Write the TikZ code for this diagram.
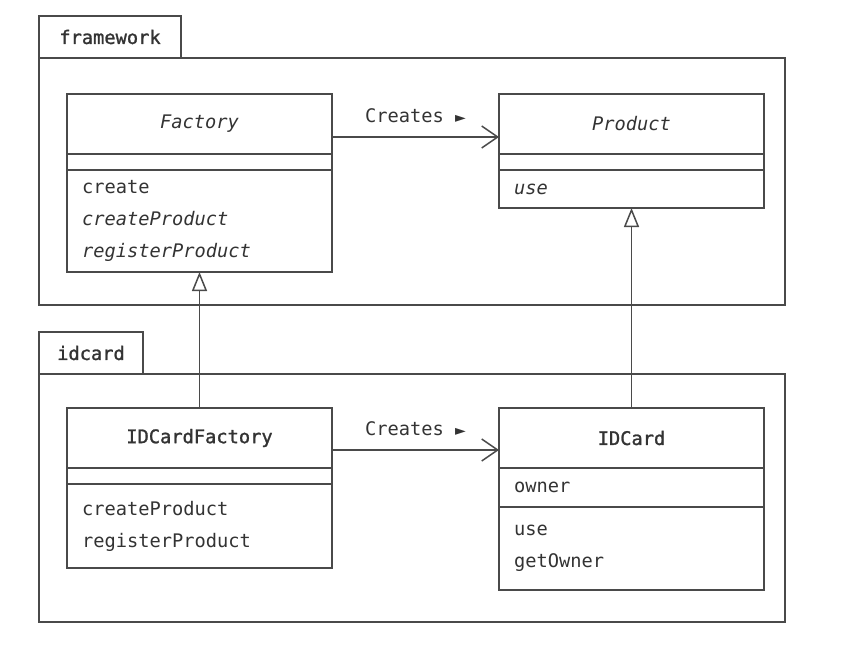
\documentclass[tikz,border=0pt]{standalone}
\usepackage{fontspec}
\setmonofont{DejaVu Sans Mono}
\newfontfamily\symfont{DejaVu Sans}
\newfontfamily\medfont[FakeBold=1.3]{DejaVu Sans Mono}
\usetikzlibrary{positioning,arrows.meta}
\definecolor{ink}{HTML}{333333}
\definecolor{edge}{HTML}{4A4A4A}
\newcommand{\cw}{265pt}
\newcommand{\dirmark}{{\symfont\fontsize{14}{14}\selectfont ►}}

\begin{document}
\begin{tikzpicture}[x=1pt, y=-1pt,
  font=\ttfamily\fontsize{18.7}{32}\selectfont\color{ink},
  box/.style={draw=edge, line width=1.5pt, outer sep=0pt, minimum width=\cw},
  cname/.style={box, inner sep=0pt, minimum height=60pt},
  cpart/.style={box, text width=\cw-30pt, align=left, inner xsep=15pt, inner ysep=0pt},
  tab/.style={draw=edge, line width=1.7pt, outer sep=0pt, inner sep=0pt,
    minimum height=42pt, font=\medfont\fontsize{18.7}{32}\selectfont\color{ink}},
  pkg/.style={draw=edge, line width=1.7pt, outer sep=0pt, minimum width=746pt},
  creates/.style={-{Straight Barb[length=16pt, width=22pt]}, line width=1.5pt, draw=edge},
  inherit/.style={-{Triangle[open, length=19pt, width=15pt]}, line width=1.5pt, draw=edge},
]
\useasboundingbox (0,0) rectangle (842,650);

% ---- package framework ------------------------------------------------------
\node[pkg, anchor=north west, minimum height=247pt] (fwbody) at (39,58) {};
\node[tab, anchor=south west, minimum width=142pt] (fwtab) at (39,58) {framework};

\node[cname, anchor=north west] (factory) at (67,94) {\itshape Factory};
\node[cpart, below=0pt of factory, minimum height=16pt] (factory-a) {};
\node[cpart, below=0pt of factory-a, minimum height=102pt] (factory-m)
  {create\\ \itshape createProduct\\ \itshape registerProduct};

\node[cname, anchor=north west] (product) at (499,94) {\itshape Product};
\node[cpart, below=0pt of product, minimum height=16pt] (product-a) {};
\node[cpart, below=0pt of product-a, minimum height=38pt] (product-m) {\itshape use};

% ---- package idcard ---------------------------------------------------------
\node[pkg, anchor=north west, minimum height=248pt] (idbody) at (39,374) {};
\node[tab, anchor=south west, minimum width=104pt] (idtab) at (39,374) {idcard};

\node[cname, anchor=north west] (idfactory) at (67,408) {\medfont IDCardFactory};
\node[cpart, below=0pt of idfactory, minimum height=16pt] (idfactory-a) {};
\node[cpart, below=0pt of idfactory-a, minimum height=84pt] (idfactory-m)
  {createProduct\\ registerProduct};

\node[cname, anchor=north west] (idcard) at (499,408) {\medfont IDCard};
\node[cpart, below=0pt of idcard, minimum height=39pt] (idcard-a) {owner};
\node[cpart, below=0pt of idcard-a, minimum height=83pt] (idcard-m)
  {use\\ getOwner};

% ---- relations --------------------------------------------------------------
\draw[creates] ([yshift=-13pt]factory.east) -- ([yshift=-13pt]product.west)
  node[midway, above=10pt] {Creates \dirmark};
\draw[creates] ([yshift=-12pt]idfactory.east) -- ([yshift=-12pt]idcard.west)
  node[midway, above=10pt] {Creates \dirmark};
\draw[inherit] (idfactory.north) -- (factory-m.south);
\draw[inherit] (idcard.north) -- (product-m.south);

\end{tikzpicture}
\end{document}
